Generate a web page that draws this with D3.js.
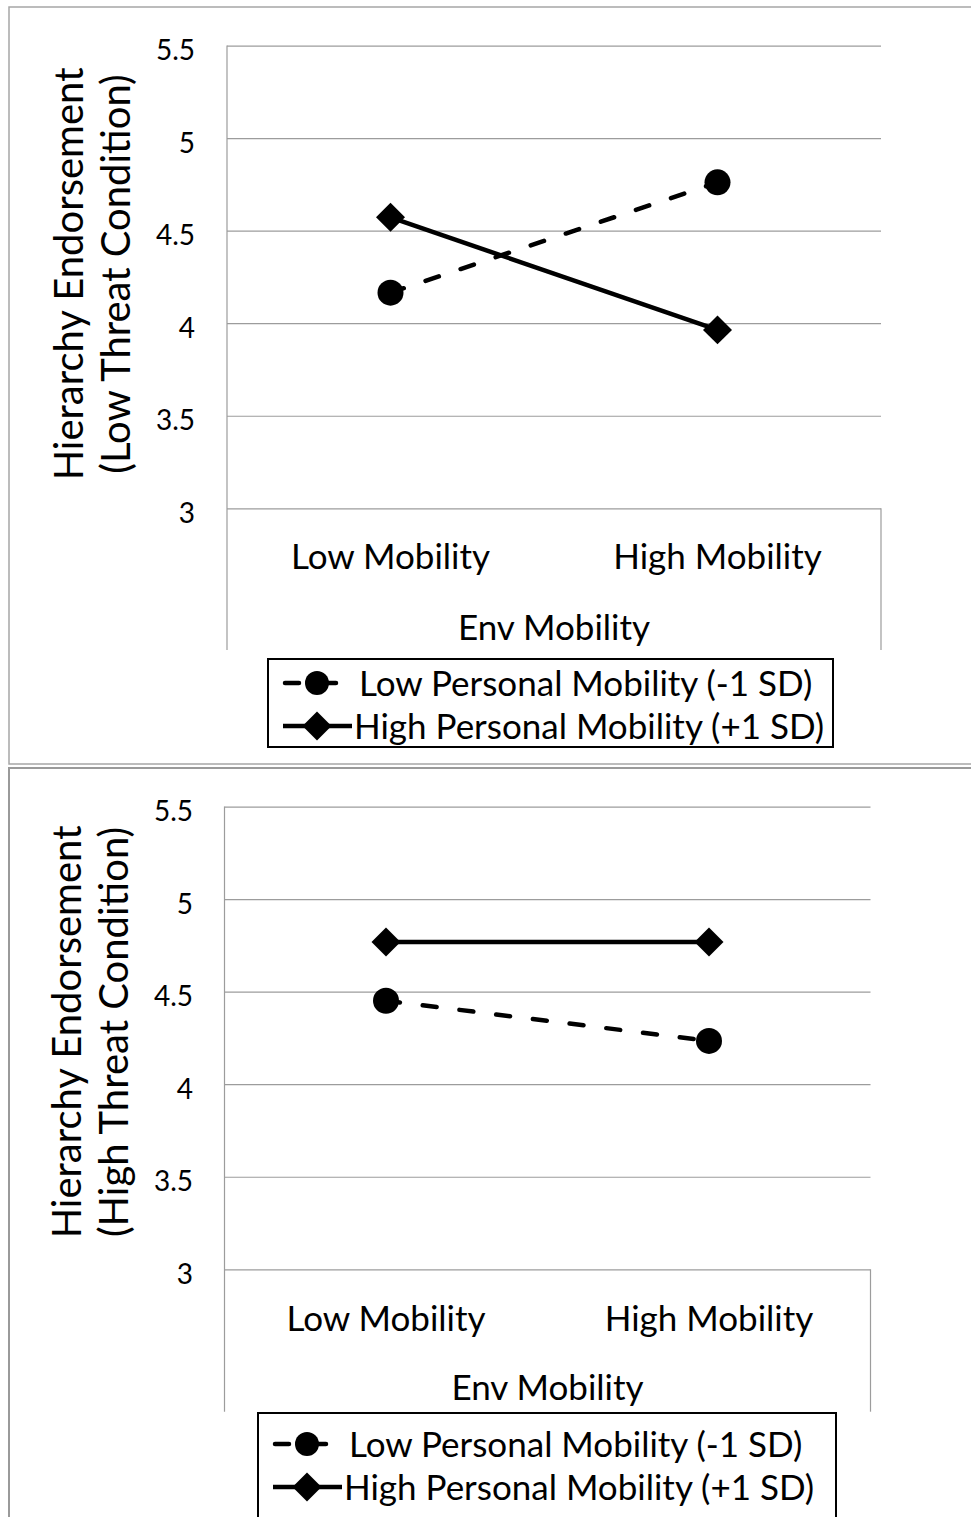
<!DOCTYPE html>
<html>
<head>
<meta charset="utf-8">
<script src="https://cdn.jsdelivr.net/npm/d3@7"></script>
<style>
  html, body { margin: 0; padding: 0; background: #fff; }
  svg { display: block; }
  text { font-family: Lato, "Open Sans", sans-serif; fill: #000; }
</style>
</head>
<body>
<svg id="chart" width="971" height="1517"></svg>
<script>
// ---------------- data ----------------
const categories = ["Low Mobility", "High Mobility"];
const yTicks = [3, 3.5, 4, 4.5, 5, 5.5];
const yTickLabels = ["3", "3.5", "4", "4.5", "5", "5.5"];
const seriesNames = ["Low Personal Mobility (-1 SD)", "High Personal Mobility (+1 SD)"];
const xAxisTitle = "Env Mobility";
const lowThreatTitle = ["Hierarchy Endorsement", "(Low Threat Condition)"];
const highThreatTitle = ["Hierarchy Endorsement", "(High Threat Condition)"];
// Low threat condition
const lowThreatLowPM = [4.165, 4.761];
const lowThreatHighPM = [4.572, 3.964];
// High threat condition
const highThreatLowPM = [4.451, 4.234];
const highThreatHighPM = [4.768, 4.768];

// ---------------- drawing ----------------
const svg = d3.select("#chart");
const GRID = "#9c9c9c";
const FRAME = "#a6a6a6";

// outer frames
svg.append("rect").attr("x", 9).attr("y", 7).attr("width", 1000).attr("height", 757)
  .attr("fill", "none").attr("stroke", FRAME).attr("stroke-width", 1.5);
svg.append("rect").attr("x", 9).attr("y", 768).attr("width", 1000).attr("height", 800)
  .attr("fill", "none").attr("stroke", "#9a9a9a").attr("stroke-width", 2);

function drawPanel(o) {
  const g = svg.append("g");
  const x = d3.scaleBand().domain(categories).range([o.left, o.right]);
  const cx = c => x(c) + x.bandwidth() / 2;
  const y = d3.scaleLinear().domain([3, 5.5]).range([o.bottom, o.top]);

  // gridlines + y tick labels
  const yAxis = d3.axisLeft(y).tickValues(yTicks)
    .tickFormat((d, i) => yTickLabels[i])
    .tickSize(-(o.right - o.left)).tickPadding(o.left - o.tickRight);
  const ya = g.append("g").attr("transform", `translate(${o.left},0)`).call(yAxis);
  ya.select(".domain").remove();
  ya.selectAll(".tick line").attr("stroke", GRID).attr("stroke-width", 1.2);
  ya.selectAll(".tick text").attr("font-family", "Lato, sans-serif")
    .attr("font-size", o.tickFont).attr("fill", "#000").attr("dy", "0.5em");

  // plot area border pieces
  g.append("line").attr("x1", o.left).attr("x2", o.left).attr("y1", o.top).attr("y2", o.plotBottom)
    .attr("stroke", GRID).attr("stroke-width", 1.2);
  g.append("line").attr("x1", o.right).attr("x2", o.right).attr("y1", o.bottom).attr("y2", o.plotBottom)
    .attr("stroke", GRID).attr("stroke-width", 1.2);

  // x category labels
  const xAxis = d3.axisBottom(x).tickSize(0).tickPadding(0);
  const xa = g.append("g").attr("transform", `translate(0,${o.bottom})`).call(xAxis);
  xa.select(".domain").remove();
  xa.selectAll(".tick text").attr("font-family", "Lato, sans-serif")
    .attr("font-size", o.labelFont).attr("fill", "#000")
    .attr("dy", null).attr("y", o.xLabelOffset);

  // x axis title
  g.append("text").attr("x", (o.left + o.right) / 2).attr("y", o.bottom + o.xTitleOffset)
    .attr("text-anchor", "middle").attr("font-size", o.labelFont).text(xAxisTitle);

  // y axis title (two lines, rotated)
  const cyTitle = (o.top + o.bottom) / 2 + o.titleShift;
  o.title.forEach((t, i) => {
    g.append("text")
      .attr("transform", `translate(${o.titleX + i * o.titleGap},${cyTitle}) rotate(-90)`)
      .attr("text-anchor", "middle").attr("font-size", o.titleFont).text(t);
  });

  const line = d3.line().x((d, i) => cx(categories[i])).y(d => y(d));

  // dashed series (low personal mobility)
  g.append("path").datum(o.lowPM).attr("d", line)
    .attr("fill", "none").attr("stroke", "#000").attr("stroke-width", 4.5)
    .attr("stroke-dasharray", "14,23").attr("stroke-linecap", "round");
  // solid series (high personal mobility)
  g.append("path").datum(o.highPM).attr("d", line)
    .attr("fill", "none").attr("stroke", "#000").attr("stroke-width", 4.5);

  g.selectAll(".circ").data(o.lowPM).join("circle")
    .attr("cx", (d, i) => cx(categories[i])).attr("cy", d => y(d)).attr("r", 13).attr("fill", "#000");
  const dia = d3.symbol().type(d3.symbolSquare).size(420);
  g.selectAll(".dia").data(o.highPM).join("path")
    .attr("d", dia)
    .attr("transform", (d, i) => `translate(${cx(categories[i])},${y(d)}) rotate(45)`)
    .attr("fill", "#000");

  // legend
  const L = o.legend;
  g.append("rect").attr("x", L.x).attr("y", L.y).attr("width", L.w).attr("height", L.h)
    .attr("fill", "#fff").attr("stroke", "#000").attr("stroke-width", 2);
  const rows = [
    { name: seriesNames[0], dashed: true },
    { name: seriesNames[1], dashed: false }
  ];
  rows.forEach((r, i) => {
    const ry = L.y + L.row0 + i * L.rowGap;
    const lx0 = L.x + 15, lx1 = L.x + 84, mx = L.x + 49;
    const ln = g.append("line").attr("x1", r.dashed ? lx0 + 2 : lx0).attr("x2", lx1).attr("y1", ry).attr("y2", ry)
      .attr("stroke", "#000").attr("stroke-width", 4.5);
    if (r.dashed) {
      ln.attr("stroke-dasharray", "14,23").attr("stroke-linecap", "round");
      g.append("circle").attr("cx", mx).attr("cy", ry).attr("r", 12).attr("fill", "#000");
    } else {
      g.append("path").attr("d", dia).attr("transform", `translate(${mx},${ry}) rotate(45)`).attr("fill", "#000");
    }
    g.append("text").attr("x", r.dashed ? L.x + 91 : L.x + 86).attr("y", ry).attr("dy", "0.36em")
      .attr("font-size", o.legendFont).text(r.name);
  });
}

drawPanel({
  left: 227, right: 881, top: 45.6, bottom: 508.3, plotBottom: 650, tickRight: 195,
  tickFont: 28, labelFont: 35, legendFont: 35, titleFont: 40,
  xLabelOffset: 61, xTitleOffset: 132,
  title: lowThreatTitle, titleX: 83, titleGap: 47, titleShift: -3,
  lowPM: lowThreatLowPM, highPM: lowThreatHighPM,
  legend: { x: 268, y: 659, w: 565, h: 88, row0: 24, rowGap: 43 }
});

drawPanel({
  left: 224.5, right: 870.5, top: 806.6, bottom: 1269.3, plotBottom: 1411.7, tickRight: 193,
  tickFont: 28, labelFont: 35, legendFont: 35, titleFont: 40,
  xLabelOffset: 62, xTitleOffset: 131,
  title: highThreatTitle, titleX: 81, titleGap: 47, titleShift: -6,
  lowPM: highThreatLowPM, highPM: highThreatHighPM,
  legend: { x: 258, y: 1413, w: 578, h: 200, row0: 31, rowGap: 43 }
});
</script>
</body>
</html>
